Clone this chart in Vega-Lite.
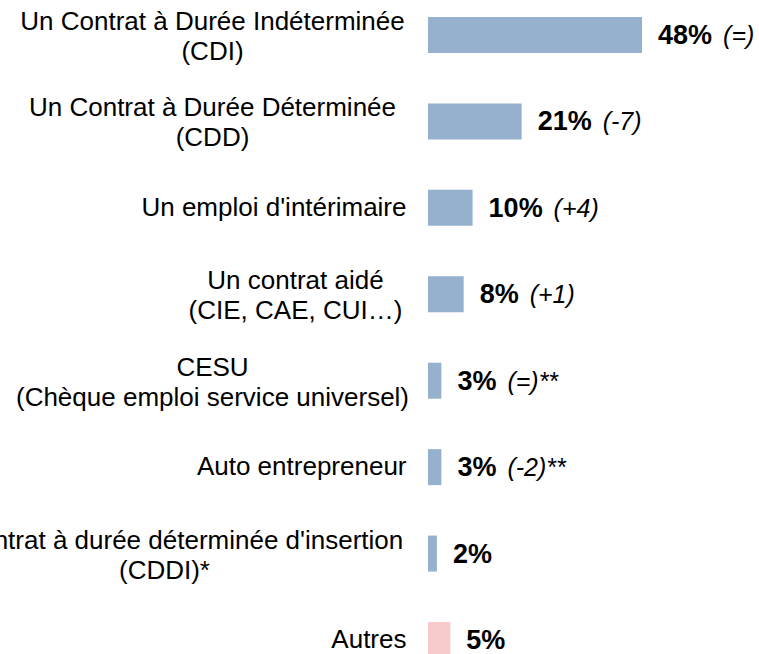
{
  "$schema": "https://vega.github.io/schema/vega-lite/v6.json",
  "autosize": {"type": "none"},
  "width": 330,
  "height": 654,
  "padding": {"left": 428, "right": 1, "top": 0, "bottom": 0},
  "background": "white",
  "config": {"view": {"stroke": null}, "font": "Liberation Sans"},
  "data": {
    "values": [
      {"cat": "Un Contrat à Durée Indéterminée|(CDI)", "pct": 0.48, "change": "(=)"},
      {"cat": "Un Contrat à Durée Déterminée|(CDD)", "pct": 0.21, "change": "(-7)"},
      {"cat": "Un emploi d'intérimaire", "pct": 0.10, "change": "(+4)"},
      {"cat": "Un contrat aidé|(CIE, CAE, CUI…)", "pct": 0.08, "change": "(+1)"},
      {"cat": "CESU|(Chèque emploi service universel)", "pct": 0.03, "change": "(=)**"},
      {"cat": "Auto entrepreneur", "pct": 0.03, "change": "(-2)**"},
      {"cat": "Un contrat à durée déterminée d'insertion|(CDDI)*", "pct": 0.02, "change": ""},
      {"cat": "Autres", "pct": 0.05, "change": ""}
    ]
  },
  "encoding": {
    "y": {
      "field": "cat",
      "type": "nominal",
      "sort": null,
      "scale": {"range": [0, 675], "paddingInner": 0.5835, "paddingOuter": 0.1967},
      "axis": {
        "title": null,
        "domain": false,
        "ticks": false,
        "grid": false,
        "labelFontSize": 26,
        "labelFont": "Liberation Sans",
        "labelColor": "#000000",
        "labelLineHeight": 30,
        "labelLimit": 2000,
        "labelOverlap": false,
        "labelExpr": "split(datum.label, '|')",
        "labelAlign": {"expr": "indexof(datum.value,'|')>=0 ? 'center' : 'right'"},
        "labelPadding": {"expr": "(indexof(datum.value,'(CDI)')>=0 || indexof(datum.value,'(CDD)')>=0 || indexof(datum.value,'CESU')>=0) ? 216 : indexof(datum.value,'CUI')>=0 ? 133 : indexof(datum.value,'CDDI')>=0 ? 264 : 22"},
        "labelOffset": {"expr": "indexof(datum.value,'|')>=0 ? -13 : 0"}
      }
    }
  },
  "layer": [
    {
      "mark": {"type": "bar"},
      "encoding": {
        "x": {"field": "pct", "type": "quantitative", "scale": {"domain": [0, 0.74], "nice": false}, "axis": null},
        "color": {
          "condition": {"test": "datum.cat == 'Autres'", "value": "#F7CBCB"},
          "value": "#95B1CE"
        }
      }
    },
    {
      "mark": {"type": "text", "align": "left", "baseline": "middle", "dx": 16, "dy": 1, "fontSize": 27, "fontWeight": "bold", "font": "Liberation Sans", "color": "#000000"},
      "encoding": {
        "x": {"field": "pct", "type": "quantitative"},
        "text": {"field": "pct", "type": "quantitative", "format": ".0%"}
      }
    },
    {
      "transform": [{"filter": "datum.pct >= 0.1"}],
      "mark": {"type": "text", "align": "left", "baseline": "middle", "dx": 81, "dy": 1, "fontSize": 25, "fontStyle": "italic", "font": "Liberation Sans", "color": "#000000"},
      "encoding": {
        "x": {"field": "pct", "type": "quantitative"},
        "text": {"field": "change", "type": "nominal"}
      }
    },
    {
      "transform": [{"filter": "datum.pct < 0.1 && datum.change != ''"}],
      "mark": {"type": "text", "align": "left", "baseline": "middle", "dx": 66, "dy": 1, "fontSize": 25, "fontStyle": "italic", "font": "Liberation Sans", "color": "#000000"},
      "encoding": {
        "x": {"field": "pct", "type": "quantitative"},
        "text": {"field": "change", "type": "nominal"}
      }
    }
  ]
}
